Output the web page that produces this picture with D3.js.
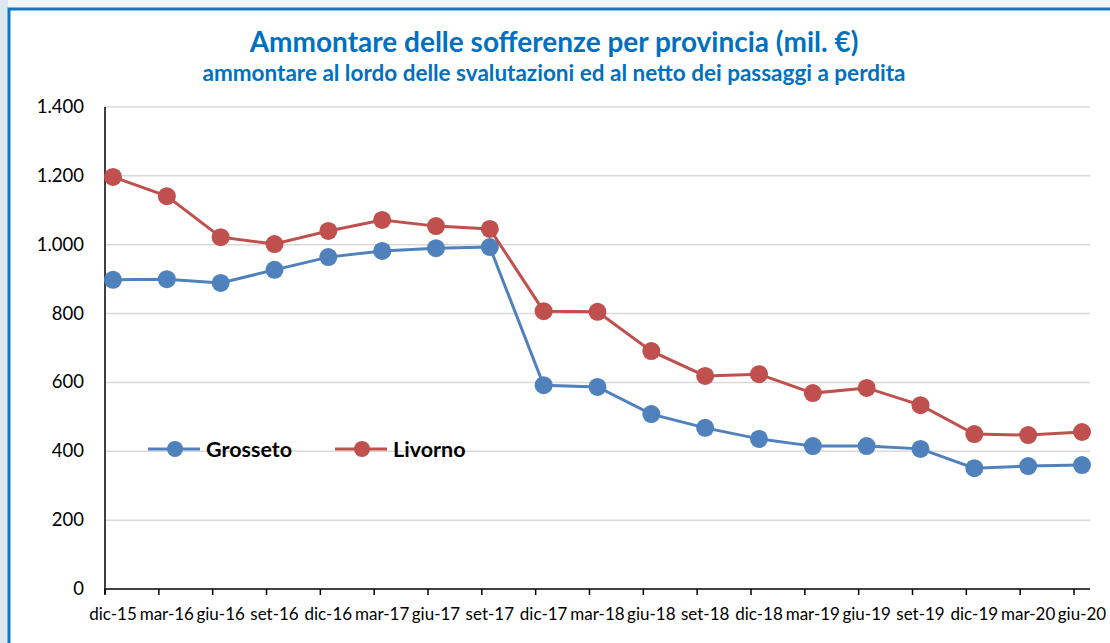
<!DOCTYPE html>
<html>
<head>
  <meta charset="UTF-8">
  <title>Ammontare delle sofferenze per provincia</title>
  <script src="https://cdn.jsdelivr.net/npm/d3@7"></script>
  <style>
    body { margin: 0; background: #f4f7f9; }
    svg { display: block; }
    text { font-family: Lato, "Open Sans", sans-serif; }
  </style>
</head>
<body>
<svg id="svg" width="1110" height="643"></svg>

<script type="text/javascript">

var categories = ['dic-15','mar-16','giu-16','set-16','dic-16','mar-17','giu-17','set-17',
                  'dic-17','mar-18','giu-18','set-18','dic-18','mar-19','giu-19','set-19',
                  'dic-19','mar-20','giu-20'];

var grosseto = [898, 900, 889, 927, 964, 982, 990, 993, 592, 587, 508, 468, 436, 415, 415, 407, 351, 357, 360];
var livorno  = [1197, 1141, 1022, 1002, 1040, 1072, 1054, 1046, 807, 805, 691, 619, 624, 569, 584, 534, 450, 447, 456];

var yTicks = [0, 200, 400, 600, 800, 1000, 1200, 1400];

var series = [
  { name: 'Grosseto', values: grosseto, color: '#4f81bd' },
  { name: 'Livorno',  values: livorno,  color: '#c0504d' }
];

var svg = d3.select('#svg');

// sfondo e cornice
svg.append('rect').attr('x', 0).attr('y', 0).attr('width', 8).attr('height', 643).style('fill', '#dbe8ef');
svg.append('rect')
  .attr('x', 9).attr('y', 9).attr('width', 1120).attr('height', 660)
  .style('fill', '#ffffff').style('stroke', '#1874c6').style('stroke-width', 3);

var x = d3.scalePoint().domain(categories).range([113, 1082]);
var y = d3.scaleLinear().domain([0, 1400]).range([589, 107]);
var left = 105, right = 1090;

function fmt(v) { return d3.format(',')(v).replace(/,/g, '.'); }

// griglia
svg.append('g').selectAll('line')
  .data(yTicks.filter(function(d){ return d > 0; }))
  .enter().append('line')
    .attr('x1', left).attr('x2', right)
    .attr('y1', function(d){ return y(d); }).attr('y2', function(d){ return y(d); })
    .style('stroke', '#d9d9d9').style('stroke-width', 1.5);

// etichette asse y
svg.append('g').selectAll('text')
  .data(yTicks)
  .enter().append('text')
    .attr('x', 84).attr('y', function(d){ return y(d) + 6; })
    .attr('text-anchor', 'end')
    .style('font-size', '18.5px').style('fill', '#000')
    .text(fmt);

// assi
svg.append('line').attr('x1', left).attr('x2', left).attr('y1', y(1400)).attr('y2', y(0) + 5)
  .style('stroke', '#000').style('stroke-width', 1.5);
svg.append('line').attr('x1', left).attr('x2', right).attr('y1', y(0)).attr('y2', y(0))
  .style('stroke', '#000').style('stroke-width', 1.5);

svg.append('g').selectAll('line')
  .data(categories)
  .enter().append('line')
    .attr('x1', function(d){ return x(d) - 8; }).attr('x2', function(d){ return x(d) - 8; })
    .attr('y1', y(0)).attr('y2', y(0) + 6)
    .style('stroke', '#000').style('stroke-width', 1.5);

svg.append('g').selectAll('text')
  .data(categories)
  .enter().append('text')
    .attr('x', function(d){ return x(d); }).attr('y', 620)
    .attr('text-anchor', 'middle')
    .style('font-size', '17px').style('fill', '#000')
    .text(function(d){ return d; });

// linee e punti
var line = d3.line()
  .x(function(d, i){ return x(categories[i]); })
  .y(function(d){ return y(d); });

series.forEach(function(s) {
  svg.append('path')
    .datum(s.values)
    .attr('d', line)
    .style('fill', 'none').style('stroke', s.color).style('stroke-width', 3);

  svg.append('g').selectAll('circle')
    .data(s.values)
    .enter().append('circle')
      .attr('cx', function(d, i){ return x(categories[i]); })
      .attr('cy', function(d){ return y(d); })
      .attr('r', 9)
      .style('fill', s.color);
});

// legenda
var legend = svg.append('g').selectAll('g')
  .data(series)
  .enter().append('g')
    .attr('transform', function(d, i){ return 'translate(' + (148 + i * 187) + ',449)'; });

legend.append('line').attr('x1', 0).attr('x2', 52).attr('y1', 0).attr('y2', 0)
  .style('stroke', function(d){ return d.color; }).style('stroke-width', 3);
legend.append('circle').attr('cx', 27).attr('cy', 0).attr('r', 8)
  .style('fill', function(d){ return d.color; });
legend.append('text').attr('x', 58).attr('y', 8)
  .style('font-size', '21.5px').style('font-weight', 'bold').style('fill', '#000')
  .text(function(d){ return d.name; });

// titolo
svg.append('text')
  .attr('x', 554).attr('y', 52)
  .attr('text-anchor', 'middle')
  .style('font-size', '28px').style('font-weight', 'bold').style('fill', '#0070c0')
  .text('Ammontare delle sofferenze per provincia (mil. €)');

svg.append('text')
  .attr('x', 554).attr('y', 81)
  .attr('text-anchor', 'middle')
  .style('font-size', '22.5px').style('font-weight', 'bold').style('fill', '#0070c0')
  .text('ammontare al lordo delle svalutazioni ed al netto dei passaggi a perdita');

</script>
</body>
</html>
